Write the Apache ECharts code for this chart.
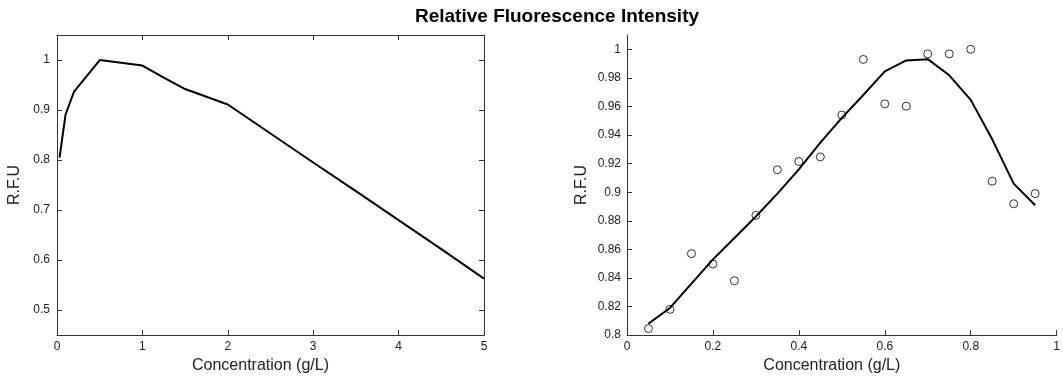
<!DOCTYPE html>
<html>
<head>
<meta charset="utf-8">
<script src="https://cdn.jsdelivr.net/npm/echarts@6/dist/echarts.min.js"></script>
<style>
  html, body { margin: 0; padding: 0; background: #fff; }
  #chart { width: 1063px; height: 379px; }
</style>
</head>
<body>
<div id="chart"></div>
<script>
// left panel: RFU vs concentration 0-5 g/L
const leftConc = [0.03, 0.1, 0.2, 0.5, 1.0, 1.25, 1.5, 2.0, 2.5, 3.0, 3.5, 4.0, 4.5, 5.0];
const leftRfu = [0.805, 0.891, 0.937, 1.0, 0.989, 0.965, 0.942, 0.911, 0.853, 0.795, 0.738, 0.680, 0.622, 0.563];

// right panel: measured points + fitted curve, 0-1 g/L
const rightConc = [0.05, 0.1, 0.15, 0.2, 0.25, 0.3, 0.35, 0.4, 0.45, 0.5, 0.55, 0.6, 0.65, 0.7, 0.75, 0.8, 0.85, 0.9, 0.95];
const rightObserved = [0.8046, 0.818, 0.857, 0.8497, 0.838, 0.8838, 0.9157, 0.9215, 0.9247, 0.954, 0.9929, 0.9618, 0.9602, 0.9968, 0.9968, 1.0, 0.9077, 0.8919, 0.899];
const rightFit = [0.808, 0.819, 0.836, 0.853, 0.868, 0.883, 0.899, 0.916, 0.9347, 0.952, 0.968, 0.9846, 0.9922, 0.9931, 0.9818, 0.9646, 0.937, 0.906, 0.8909];

// tick labels
const leftXTicks = [0, 1, 2, 3, 4, 5];
const leftYTicks = [0.5, 0.6, 0.7, 0.8, 0.9, 1.0];
const rightXTicks = [0, 0.2, 0.4, 0.6, 0.8, 1];
const rightYTicks = [0.8, 0.82, 0.84, 0.86, 0.88, 0.9, 0.92, 0.94, 0.96, 0.98, 1.0];

const font = 'Liberation Sans, Arial, sans-serif';
const axisColor = '#333';
const fmt = v => String(+(+v).toFixed(2));

const chart = echarts.init(document.getElementById('chart'));

const tickLabel = { fontSize: 12, color: '#222', fontFamily: font };
const nameStyle = { fontSize: 16, color: '#222', fontFamily: font };

function baseAxis(extra) {
    return Object.assign({
        type: 'value',
        splitLine: { show: false },
        axisLine: { show: true, onZero: false, lineStyle: { color: axisColor, width: 1 } },
        axisTick: { show: true, inside: true, length: 5, lineStyle: { color: axisColor } },
        axisLabel: Object.assign({ formatter: fmt }, tickLabel),
    }, extra);
}

chart.setOption({
    animation: false,
    backgroundColor: '#fff',
    graphic: [
        {
            type: 'text',
            x: 557,
            y: 7,
            style: {
                text: 'Relative Fluorescence Intensity',
                textAlign: 'center',
                fontSize: 19,
                fontWeight: 'bold',
                fontFamily: font,
                fill: '#000',
            },
        },
    ],
    grid: [
        { left: 57, top: 35, width: 427, height: 303 },
        { left: 627, top: 35, width: 434, height: 303 },
    ],
    xAxis: [
        baseAxis({
            gridIndex: 0, min: 0, max: 5, interval: 1,
            axisLabel: Object.assign({ margin: 6, customValues: leftXTicks, formatter: fmt }, tickLabel),
            axisTick: { inside: true, length: 5, customValues: leftXTicks, lineStyle: { color: axisColor } },
            name: 'Concentration (g/L)', nameLocation: 'middle', nameGap: 22,
            nameTextStyle: Object.assign({ padding: [0, 20, 0, 0] }, nameStyle),
        }),
        // top border of the left box
        baseAxis({
            gridIndex: 0, position: 'top', min: 0, max: 5, interval: 1,
            axisLabel: { show: false },
            axisTick: { inside: true, length: 5, customValues: leftXTicks, lineStyle: { color: axisColor } },
        }),
        baseAxis({
            gridIndex: 1, min: 0, max: 1, interval: 0.2,
            axisLabel: Object.assign({ margin: 6, customValues: rightXTicks, formatter: fmt }, tickLabel),
            axisTick: { inside: true, length: 5, customValues: rightXTicks, lineStyle: { color: axisColor } },
            name: 'Concentration (g/L)', nameLocation: 'middle', nameGap: 22,
            nameTextStyle: Object.assign({ padding: [0, 20, 0, 0] }, nameStyle),
        }),
    ],
    yAxis: [
        baseAxis({
            gridIndex: 0, min: 0.45, max: 1.05,
            axisLabel: Object.assign({ margin: 7, customValues: leftYTicks, formatter: fmt }, tickLabel),
            axisTick: { inside: true, length: 5, customValues: leftYTicks, lineStyle: { color: axisColor } },
            name: 'R.F.U', nameLocation: 'middle', nameGap: 34, nameTextStyle: nameStyle,
        }),
        // right border of the left box
        baseAxis({
            gridIndex: 0, position: 'right', min: 0.45, max: 1.05,
            axisLabel: { show: false },
            axisTick: { inside: true, length: 5, customValues: leftYTicks, lineStyle: { color: axisColor } },
        }),
        baseAxis({
            gridIndex: 1, min: 0.8, max: 1.01,
            axisLabel: Object.assign({ margin: 6, customValues: rightYTicks, formatter: fmt }, tickLabel),
            axisTick: { inside: true, length: 5, customValues: rightYTicks, lineStyle: { color: axisColor } },
            name: 'R.F.U', nameLocation: 'middle', nameGap: 37, nameTextStyle: nameStyle,
        }),
    ],
    series: [
        {
            type: 'line',
            xAxisIndex: 0, yAxisIndex: 0,
            data: leftConc.map((x, i) => [x, leftRfu[i]]),
            showSymbol: false,
            lineStyle: { color: '#000', width: 2 },
        },
        {
            type: 'line',
            xAxisIndex: 2, yAxisIndex: 2,
            data: rightConc.map((x, i) => [x, rightFit[i]]),
            showSymbol: false,
            lineStyle: { color: '#000', width: 2 },
        },
        {
            type: 'scatter',
            xAxisIndex: 2, yAxisIndex: 2,
            data: rightConc.map((x, i) => [x, rightObserved[i]]),
            symbol: 'circle',
            symbolSize: 8,
            itemStyle: { color: 'rgba(255,255,255,0)', borderColor: '#000', borderWidth: 1 },
            z: 3,
        },
    ],
});
</script>
</body>
</html>
